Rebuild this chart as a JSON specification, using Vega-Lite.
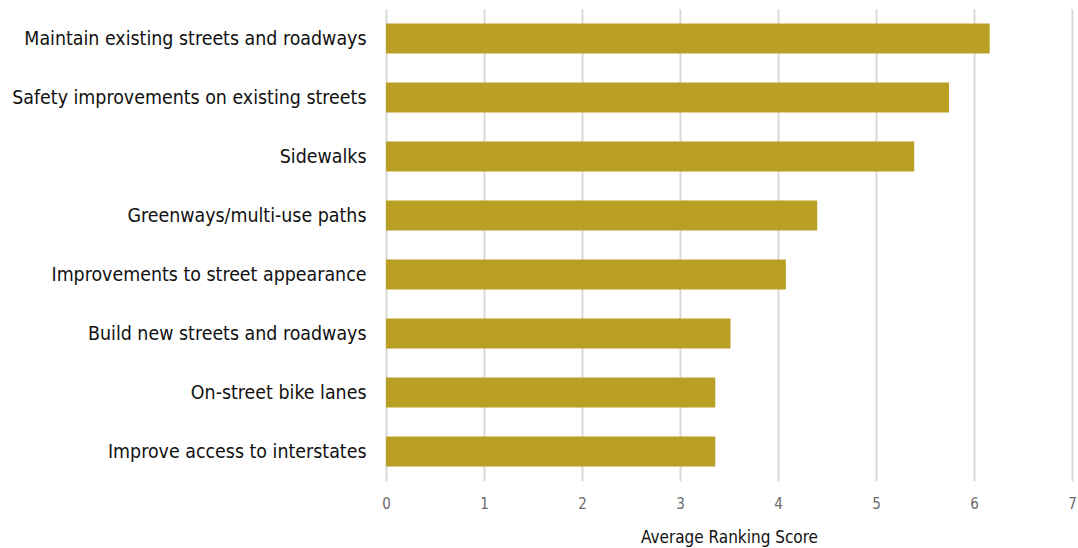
{
  "$schema": "https://vega.github.io/schema/vega-lite/v6.json",
  "autosize": {"type": "none"},
  "padding": {"left": 386, "top": 9, "right": 6, "bottom": 67},
  "width": 686,
  "height": 472,
  "background": "white",
  "config": {"view": {"stroke": null}, "font": "DejaVu Sans Condensed, sans-serif"},
  "data": {
    "values": [
      {"item": "Maintain existing streets and roadways", "score": 6.16},
      {"item": "Safety improvements on existing streets", "score": 5.745},
      {"item": "Sidewalks", "score": 5.39},
      {"item": "Greenways/multi-use paths", "score": 4.40},
      {"item": "Improvements to street appearance", "score": 4.08},
      {"item": "Build new streets and roadways", "score": 3.515},
      {"item": "On-street bike lanes", "score": 3.36},
      {"item": "Improve access to interstates", "score": 3.36}
    ]
  },
  "mark": {"type": "bar", "color": "#B9A024"},
  "encoding": {
    "y": {
      "field": "item",
      "type": "nominal",
      "sort": null,
      "scale": {"paddingInner": 0.49, "paddingOuter": 0.245},
      "axis": {
        "title": null,
        "domain": false,
        "ticks": false,
        "labelFont": "DejaVu Sans Condensed, sans-serif",
        "labelFontSize": 19.4,
        "labelColor": "#111111",
        "labelPadding": 20,
        "labelLimit": 400
      }
    },
    "x": {
      "field": "score",
      "type": "quantitative",
      "scale": {"domain": [0, 7], "nice": false},
      "axis": {
        "title": "Average Ranking Score",
        "titleFont": "DejaVu Sans Condensed, sans-serif",
        "titleFontSize": 17,
        "titleFontWeight": "normal",
        "titleColor": "#111111",
        "titlePadding": 18,
        "values": [0, 1, 2, 3, 4, 5, 6, 7],
        "format": "d",
        "domain": false,
        "ticks": false,
        "grid": true,
        "gridColor": "#d9d9d9",
        "gridWidth": 2,
        "labelFlush": false,
        "labelFont": "DejaVu Sans Condensed, sans-serif",
        "labelFontSize": 15,
        "labelColor": "#6b6b6b",
        "labelPadding": 15
      }
    }
  }
}
